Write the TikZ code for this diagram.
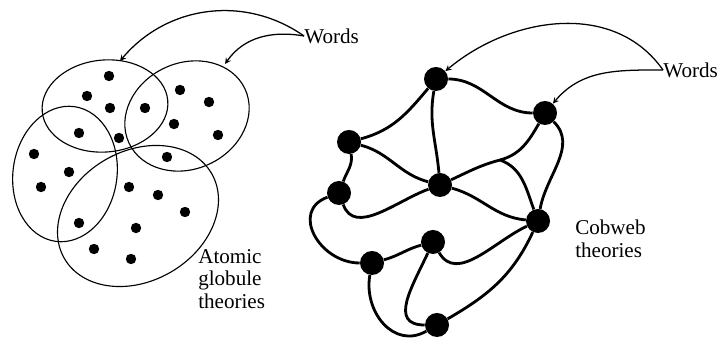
\documentclass[tikz,border=0pt]{standalone}
\usepackage{fontspec}
\setmainfont{Liberation Serif}
\begin{document}
\begin{tikzpicture}[x=0.025cm, y=0.025cm,
    dot/.style={circle, fill, inner sep=0pt, minimum size=0.26cm},
    web/.style={circle, fill, inner sep=0pt, minimum size=0.6cm},
    lbl/.style={font=\fontsize{15}{16}\selectfont, inner sep=0pt, align=left}]
    \useasboundingbox (0,0) rectangle (725,-346);

    % globules
    \begin{scope}[line width=0.8pt]
        \draw (105,-106) ellipse [x radius=63, y radius=46, rotate=5];
        \draw (187,-116) ellipse [x radius=64, y radius=53, rotate=25];
        \draw (65,-174) ellipse [x radius=52, y radius=68, rotate=-8];
        \draw (138,-216) ellipse [x radius=85, y radius=65, rotate=30];
    \end{scope}
    \coordinate (t1) at (120,-61);
    \coordinate (t2) at (225,-64);

    \begin{scope}[every node/.style={dot}]
        \node (d1) at (109,-76) {};
        \node (d2) at (87,-96) {};
        \node (d3) at (110,-108) {};
        \node (d4) at (145,-108) {};
        \node (d5) at (180,-90) {};
        \node (d6) at (209,-102) {};
        \node (d7) at (174,-124) {};
        \node (d8) at (218,-135) {};
        \node (d9) at (79,-133) {};
        \node (d10) at (119,-138) {};
        \node (d11) at (34,-154) {};
        \node (d12) at (69,-172) {};
        \node (d13) at (41,-187) {};
        \node (d14) at (167,-157) {};
        \node (d15) at (129,-187) {};
        \node (d16) at (158,-195) {};
        \node (d17) at (185,-212) {};
        \node (d18) at (79,-223) {};
        \node (d19) at (136,-228) {};
        \node (d20) at (94,-249) {};
        \node (d21) at (131,-259) {};
    \end{scope}

    \node [lbl, anchor=west] (w1) at (304,-36) {Words};
    \node [lbl, anchor=north west] (atom) at (198,-249) {Atomic\\globule\\theories};

    % cobweb
    \begin{scope}[every node/.style={web}]
        \node (a) at (436,-79) {};
        \node (b) at (545,-113) {};
        \node (c) at (349,-142) {};
        \node (d) at (339,-193) {};
        \node (e) at (440,-185) {};
        \node (f) at (538,-221) {};
        \node (g) at (433,-242) {};
        \node (h) at (372,-263) {};
        \node (i) at (437,-325) {};
    \end{scope}
    \coordinate (j) at (500,-160);

    \node [lbl, anchor=west] (w2) at (663,-70) {Words};
    \node [lbl, anchor=north west] (cob) at (575,-220) {Cobweb\\theories};

    \begin{scope}[line width=2pt]
        \draw (a) to [out=-130, in=15] (c);
        \draw (a) to [out=0, in=180] (b);
        \draw (a) to [out=-100, in=95] (e);
        \draw (c) to [out=-15, in=165] (e);
        \draw (c) to [out=-80, in=70] (d);
        \draw (e) to [out=25, in=195] (j);
        \draw (j) to [out=15, in=-120] (b);
        \draw (j) to [out=-20, in=110] (f);
        \draw (b) to [out=-45, in=80] (f);
        \draw (e) to [out=-15, in=175] (f);
        \draw (d) to [out=-70, in=-160] (e);
        \draw (d) to [out=200, in=180, looseness=1.4] (h);
        \draw (h) to [out=15, in=195] (g);
        \draw (g) to [out=-60, in=-155] (f);
        \draw (g) to [out=-115, in=180, looseness=1.3] (i);
        \draw (h) to [out=-100, in=-150, looseness=1.2] (i);
        \draw (i) to [out=30, in=-115] (f);
    \end{scope}

    \begin{scope}[-stealth, line width=0.9pt]
        \draw (w1.west) to [out=145, in=50] (t1);
        \draw (w1.west) to [out=170, in=55] (t2);
        \draw (w2.west) to [out=125, in=40] (a);
        \draw (w2.west) to [out=180, in=50] (b);
    \end{scope}
\end{tikzpicture}
\end{document}
